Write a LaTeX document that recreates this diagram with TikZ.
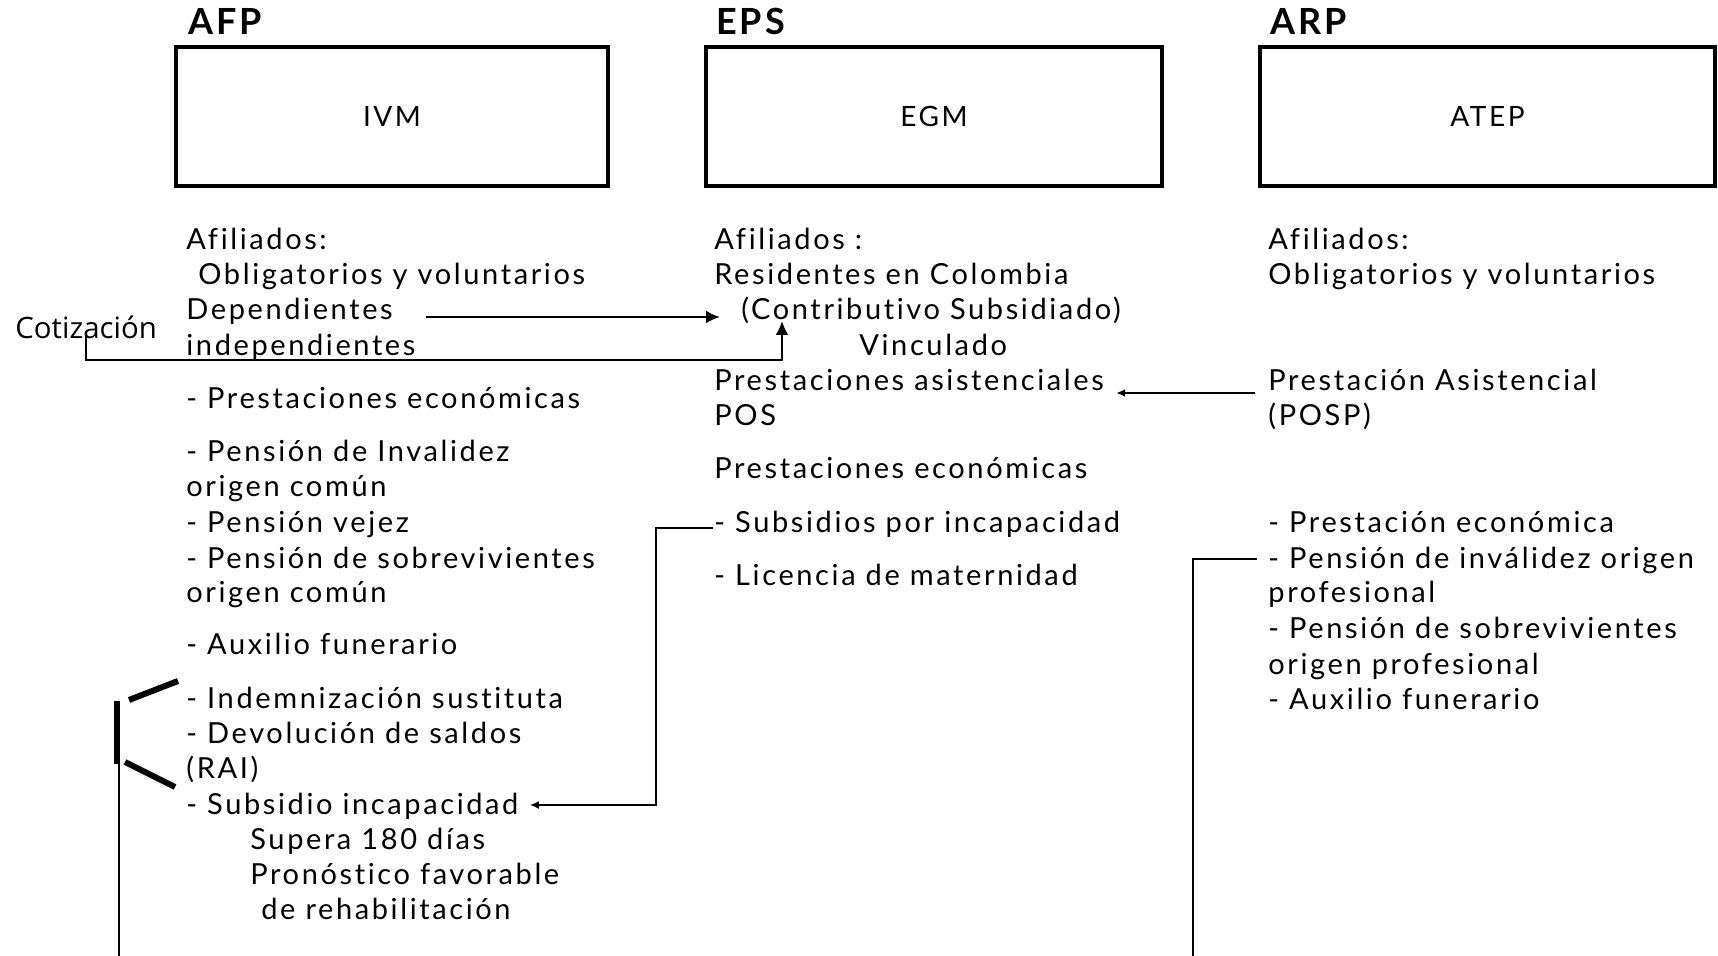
\documentclass[tikz,border=0pt]{standalone}
\usepackage{fontspec}
\usepackage{tikz}
\usetikzlibrary{arrows.meta, positioning, calc}
\newfontfamily\txtfam{Lato}[LetterSpace=9, Ligatures=NoCommon]
\newfontfamily\headfam{Lato}[LetterSpace=8]
\newfontfamily\cotfam{Open Sans}
\tikzset{
  txt/.style={anchor=base west, inner sep=0pt, font=\txtfam\fontsize{14.5}{17}\selectfont},
  head/.style={anchor=base west, inner sep=0pt, font=\headfam\bfseries\fontsize{18}{20}\selectfont},
  sysbox/.style={draw, line width=2pt, minimum height=69.5pt, inner sep=0pt,
    font=\txtfam\fontsize{14}{16}\selectfont},
  conn/.style={line width=1.2pt},
  arr/.style={conn, -{Latex[length=7pt,width=6.5pt]}},
  smallarr/.style={conn, -{Latex[length=4.5pt,width=4pt]}},
  bar/.style={line width=3pt}
}
\begin{document}
\begin{tikzpicture}[x=0.5pt, y=-0.5pt]
\useasboundingbox (0,0) rectangle (1718,956);

% Systems
\node[sysbox, minimum width=216pt] (ivm) at (392,116.5) {IVM};
\node[sysbox, minimum width=228pt] (egm) at (934,116.5) {EGM};
\node[sysbox, minimum width=227.5pt] (atep) at (1487.5,116.5) {ATEP};
\node[head] (afp) at (188,35) {AFP};
\node[head] (eps) at (716,35) {EPS};
\node[head] (arp) at (1270,35) {ARP};

% Columns
\foreach \x/\y/\t [count=\i] in {186/250/{Afiliados:}, 198/285/{Obligatorios y voluntarios},
    186/320/{Dependientes}, 186/356/{independientes}, 186/409/{- Prestaciones económicas},
    186/462/{- Pensión de Invalidez}, 186/497/{origen común}, 186/533/{- Pensión vejez},
    186/568/{- Pensión de sobrevivientes}, 186/603/{origen común}, 186/654/{- Auxilio funerario},
    186/708/{- Indemnización sustituta}, 186/743/{- Devolución de saldos}, 186/778/{(RAI)},
    186/814/{- Subsidio incapacidad}, 250/849/{Supera 180 días},
    250/884/{Pronóstico favorable}, 261/919/{de rehabilitación}}
  \node[txt] (a\i) at (\x,\y) {\t};
\foreach \x/\y/\t [count=\i] in {714/250/{Afiliados :}, 714/285/{Residentes en Colombia},
    741/320/{(Contributivo Subsidiado)}, 859/356/{Vinculado},
    714/391/{Prestaciones asistenciales}, 714/426/{POS}, 714/479/{Prestaciones económicas},
    714/533/{- Subsidios por incapacidad}, 714/585/{- Licencia de maternidad}}
  \node[txt] (b\i) at (\x,\y) {\t};
\foreach \x/\y/\t [count=\i] in {1268/250/{Afiliados:}, 1268/285/{Obligatorios y voluntarios},
    1268/391/{Prestación Asistencial}, 1268/426/{(POSP)}, 1268/533/{- Prestación económica},
    1268/568/{- Pensión de inválidez origen}, 1268/603/{profesional},
    1268/638/{- Pensión de sobrevivientes}, 1268/674/{origen profesional},
    1268/709/{- Auxilio funerario}}
  \node[txt] (c\i) at (\x,\y) {\t};

\node[anchor=base west, inner sep=0pt, font=\cotfam\fontsize{14.7}{17}\selectfont] (cot) at (15,339) {Cotización};

% Connectors
\coordinate (tipC) at ([xshift=20.5pt,yshift=-0.5pt]b3.base west);
\coordinate (endR) at (1193,956);
\coordinate (endL) at (119,956);
\draw[arr] ([xshift=16.5pt,yshift=1.5pt]a3.base east) -- ([xshift=-10.5pt,yshift=1.5pt]b3.base west);
\draw[arr] ([yshift=-3pt]cot.center) |- ([yshift=-2pt]a4.base west) -| (tipC);
\draw[smallarr] ([xshift=-6.5pt,yshift=-1pt]c3.base west) -- ([xshift=6pt,yshift=-1pt]b5.base east);
\draw[smallarr] ([xshift=-0.5pt,yshift=2.5pt]b8.base west) -- ++(-57,0) |- ([xshift=5.5pt,yshift=4.5pt]a15.base east);
\draw[conn] ([xshift=-5.5pt,yshift=4.5pt]c6.base west) -| (endR);

% Bracket
\draw[bar] (117,701) -- (117,764);
\draw[bar] (129,700) -- (178,681);
\draw[bar] (125,762) -- (175,787);
\draw[conn] (119,764) -- (endL);
\end{tikzpicture}
\end{document}
